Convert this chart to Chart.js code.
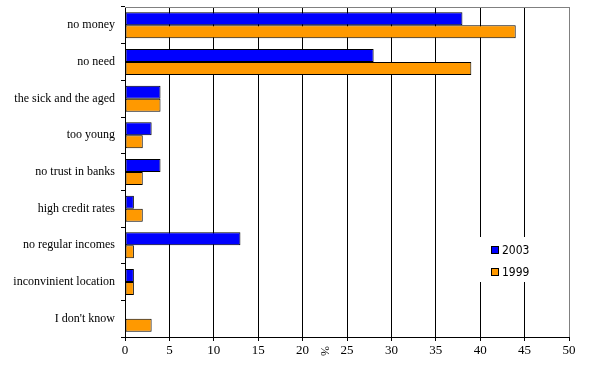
<!DOCTYPE html>
<html>
<head>
<meta charset="utf-8">
<script src="https://cdn.jsdelivr.net/npm/chart.js@4/dist/chart.umd.min.js"></script>
<style>
html,body{margin:0;padding:0;background:#fff;}
canvas{display:block;}
</style>
</head>
<body>
<canvas id="c" width="592" height="374"></canvas>
<script>
const categories = ['no money','no need','the sick and the aged','too young','no trust in banks','high credit rates','no regular incomes','inconvinient location',"I don't know"];
const values2003 = [38,28,4,3,4,1,13,1,0];
const values1999 = [44,39,4,2,2,2,1,1,3];
const seriesLabels = ['2003','1999'];
const seriesColors = ['#0000FF','#FF9900'];
const axisMin = 0, axisMax = 50, axisStep = 5;
const axisTitle = '%';

const serif = "'Liberation Serif', 'Times New Roman', serif";
const sans = "'DejaVu Sans Condensed', 'Liberation Sans Narrow', 'Liberation Sans', sans-serif";

const framePlugin = {
  id: 'frame',
  afterDraw(chart) {
    const ctx = chart.ctx, a = chart.chartArea;
    ctx.save();
    ctx.strokeStyle = '#808080';
    ctx.lineWidth = 1;
    ctx.beginPath();
    ctx.moveTo(a.left, a.top + 0.5);
    ctx.lineTo(a.right + 0.5, a.top + 0.5);
    ctx.lineTo(a.right + 0.5, a.bottom);
    ctx.stroke();
    // legend
    const x = chart.scales.x;
    const lx = Math.round(x.getPixelForValue(41.2));
    const ly = Math.round(chart.scales.y.getPixelForValue(6.12));
    ctx.fillStyle = '#fff';
    ctx.fillRect(lx - 12, ly - 13, 62, 45);
    ctx.font = "12px " + sans;
    ctx.textBaseline = 'middle';
    ctx.textAlign = 'left';
    chart.data.datasets.forEach((ds, i) => {
      const cy = ly + i * 22;
      ctx.fillStyle = ds.backgroundColor;
      ctx.fillRect(lx + 0.5, cy - 3.5, 7, 7);
      ctx.strokeStyle = '#000';
      ctx.strokeRect(lx + 0.5, cy - 3.5, 7, 7);
      ctx.fillStyle = '#000';
      ctx.fillText(ds.label, lx + 11, cy + 0.5);
    });
    // axis title rotated
    const tx = x.getPixelForValue(22.4);
    ctx.save();
    ctx.translate(tx, a.bottom + 14);
    ctx.rotate(Math.PI / 2);
    ctx.font = "12px " + serif;
    ctx.textAlign = 'center';
    ctx.textBaseline = 'middle';
    ctx.fillText(axisTitle, 0, 0);
    ctx.restore();
    ctx.restore();
  }
};

new Chart(document.getElementById('c'), {
  type: 'bar',
  data: {
    labels: categories,
    datasets: [
      { label: seriesLabels[0], data: values2003, backgroundColor: seriesColors[0], borderColor: '#000', borderWidth: 1, borderSkipped: false },
      { label: seriesLabels[1], data: values1999, backgroundColor: seriesColors[1], borderColor: '#000', borderWidth: 1, borderSkipped: false }
    ]
  },
  options: {
    indexAxis: 'y',
    responsive: false,
    animation: false,
    devicePixelRatio: 1,
    layout: { padding: { top: 7, right: 23, left: 0, bottom: 0 } },
    datasets: { bar: { categoryPercentage: 0.71, barPercentage: 1 } },
    plugins: { legend: { display: false }, tooltip: { enabled: false } },
    scales: {
      x: {
        min: axisMin, max: axisMax,
        ticks: { stepSize: axisStep, color: '#000', font: { family: serif, size: 13 }, padding: 2, maxRotation: 0 },
        grid: {
          color: (c) => (c.tick && c.tick.value === axisMax) ? '#808080' : '#000',
          tickColor: '#000', tickLength: 4, drawTicks: true
        },
        border: { color: '#000', width: 1 },
        afterFit(s) { s.height = 37; s.paddingLeft = 0; s.paddingRight = 0; }
      },
      y: {
        ticks: { color: '#000', font: { family: serif, size: 12 }, padding: 6 },
        grid: { drawOnChartArea: false, drawTicks: true, tickLength: 4, color: '#000', offset: true },
        border: { color: '#000', width: 1 },
        afterFit(s) { s.width = 125; s.paddingTop = 0; s.paddingBottom = 0; }
      }
    }
  },
  plugins: [framePlugin]
});
</script>
</body>
</html>
